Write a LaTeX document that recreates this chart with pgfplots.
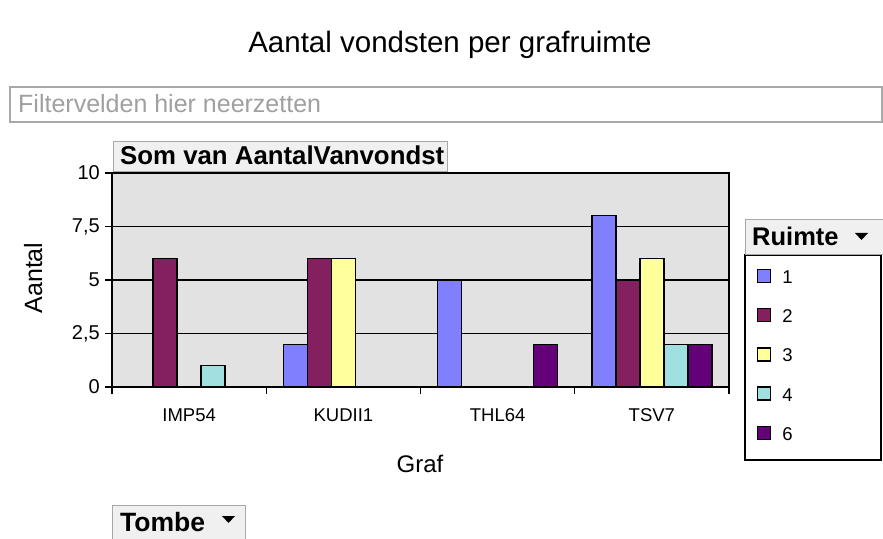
\documentclass[border=0pt]{standalone}
\usepackage{pgfplots}
\pgfplotsset{compat=1.18}
\usepackage{fontspec}
\setmainfont{Liberation Sans}
\newcommand\fs[1]{\fontsize{#1}{#1}\selectfont}

\definecolor{rA}{HTML}{8080FF}
\definecolor{rB}{HTML}{852060}
\definecolor{rC}{HTML}{FFFF9C}
\definecolor{rD}{HTML}{A0E0E0}
\definecolor{rF}{HTML}{640078}
\definecolor{plotbg}{HTML}{E2E2E2}
\definecolor{btnfill}{HTML}{F0F0F0}
\definecolor{btngray}{HTML}{A8A8A8}
\definecolor{filtergray}{HTML}{A0A0A0}

\pgfplotsset{
  bar/.style={fill=#1, draw=black, line width=1.3pt,
    legend image code/.code={\draw[##1, line width=1.2pt] (0pt,-6pt) rectangle (13pt,7pt);}},
}

\begin{document}
\begin{tikzpicture}[x=1pt,y=1pt]
\useasboundingbox (0,0) rectangle (883,538);
\fill[white] (0,0) rectangle (883,538);

\begin{axis}[
  at={(112pt,151pt)}, anchor=south west,
  scale only axis, width=617pt, height=214pt,
  xmin=-0.5, xmax=3.5, ymin=0, ymax=10,
  ybar=0pt, bar width=24pt,
  axis background/.style={fill=plotbg},
  axis line style={black, line width=1.3pt},
  xtick={0,1,2,3}, xticklabels={IMP54,KUDII1,THL64,TSV7},
  minor xtick={-0.5,0.5,1.5,2.5,3.5},
  ytick={0,2.5,5,7.5,10},
  xtick pos=bottom, ytick pos=left,
  tick align=outside, major tick length=7pt, minor tick length=7pt,
  every tick/.style={black, line width=1.3pt},
  major x tick style={draw=none},
  ymajorgrids, grid style={black, line width=1.4pt},
  xticklabel style={font=\fs{18.5}, inner sep=0pt, anchor=base, yshift=-27pt},
  yticklabel style={font=\fs{20}, inner sep=0pt, anchor=east, xshift=-5pt},
  /pgf/number format/use comma,
  /pgf/number format/assume math mode=true,
  legend style={at={(axis description cs:1.0454,0.5514)}, anchor=north west,
    draw=none, fill=none, inner sep=0pt, row sep=24.5pt, column sep=11pt,
    nodes={inner sep=0pt, text height=14pt, text depth=0pt, font=\fs{18.5}}},
  legend cell align=left,
]
\addplot[bar=rA] coordinates {(1,2) (2,5) (3,8)};
\addplot[bar=rB] coordinates {(0,6) (1,6) (3,5)};
\addplot[bar=rC] coordinates {(1,6) (3,6)};
\addplot[bar=rD] coordinates {(0,1) (3,2)};
\addplot[bar=rF] coordinates {(2,2) (3,2)};
\legend{1,2,3,4,6}
\end{axis}

% title and filter field
\node[anchor=base, font=\fs{29.5}] at (450,485) {Aantal vondsten per grafruimte};
\draw[btngray, line width=1.2pt] (10,451) rectangle (882,416);
\node[anchor=base west, inner sep=0pt, text=filtergray, font=\fs{25}] at (18,425) {Filtervelden hier neerzetten};

% data field button
\draw[fill=btnfill, draw=btngray, line width=1pt] (113,396) rectangle (447,366);
\node[anchor=base west, inner sep=0pt, font=\bfseries\fs{25.8}] at (120,373) {Som van AantalVanvondst};

% axis titles
\node[rotate=90, anchor=base, font=\fs{25}] at (42,260) {Aantal};
\node[anchor=base, font=\fs{24}] at (420,65) {Graf};

% legend frame and title button
\draw[black, line width=1.3pt] (745,283) rectangle (881,78);
\draw[fill=btnfill, draw=btngray, line width=1pt] (745,318) rectangle (883,283);
\node[anchor=base west, inner sep=0pt, font=\bfseries\fs{25.5}] at (752,292) {Ruimte};
\fill[black] (855,305) -- (868,305) -- (861.5,298) -- cycle;

% row field button
\draw[fill=btnfill, draw=btngray, line width=1pt] (112,33) rectangle (245,-2);
\node[anchor=base west, inner sep=0pt, font=\bfseries\fs{26.5}] at (120,7) {Tombe};
\fill[black] (222,22) -- (235,22) -- (228.5,15) -- cycle;
\end{tikzpicture}
\end{document}
